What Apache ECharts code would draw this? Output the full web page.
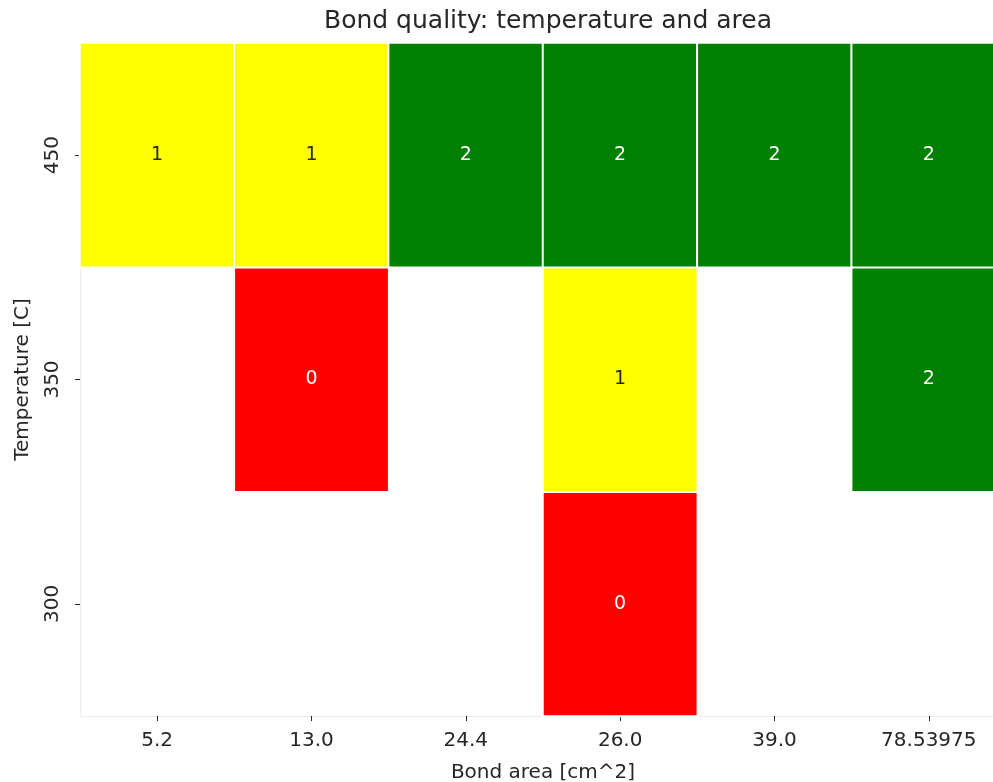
<!DOCTYPE html>
<html>
<head>
<meta charset="utf-8">
<script src="https://cdn.jsdelivr.net/npm/echarts@6/dist/echarts.min.js"></script>
<style>
  html, body { margin: 0; padding: 0; background: #fff; }
  #chart { width: 993px; height: 782px; }
</style>
</head>
<body>
<div id="chart"></div>
<script>
// Bond areas along x, temperatures along y (bottom to top)
const areas = ['5.2', '13.0', '24.4', '26.0', '39.0', '78.53975'];
const temps = ['300', '350', '450'];

// Bond quality per temperature row (null = not tested)
const quality300 = [null, null, null, 0, null, null];
const quality350 = [null, 0, null, 1, null, 2];
const quality450 = [1, 1, 2, 2, 2, 2];

const rows = [quality300, quality350, quality450];
const cells = [];
rows.forEach((row, yi) => {
  row.forEach((v, xi) => {
    if (v === null) return;
    cells.push({
      value: [xi, yi, v],
      label: { color: v === 1 ? '#262626' : '#ffffff' }
    });
  });
});

const FONT = 'DejaVu Sans';
const chart = echarts.init(document.getElementById('chart'));
chart.setOption({
  animation: false,
  backgroundColor: '#ffffff',
  textStyle: { fontFamily: FONT },
  title: {
    text: 'Bond quality: temperature and area',
    left: 543,
    textAlign: 'center',
    top: 4,
    textStyle: { fontFamily: FONT, fontSize: 25, fontWeight: 'normal', color: '#262626' }
  },
  grid: { left: 80, top: 43, width: 926, height: 673, outerBoundsMode: 'none', containLabel: false },
  xAxis: {
    type: 'category',
    data: areas,
    name: 'Bond area [cm^2]',
    nameLocation: 'middle',
    nameGap: 47,
    nameTextStyle: { fontFamily: FONT, fontSize: 20, color: '#262626' },
    axisLine: { show: true, lineStyle: { color: '#ebebeb', width: 1 } },
    axisTick: { show: true, alignWithLabel: true, length: 5, lineStyle: { color: '#262626', width: 1 } },
    axisLabel: { fontFamily: FONT, fontSize: 20, color: '#262626', margin: 15 },
    splitLine: { show: false },
    splitArea: { show: false }
  },
  yAxis: {
    type: 'category',
    data: temps,
    name: 'Temperature [C]',
    nameLocation: 'middle',
    nameRotate: 90,
    nameGap: 47,
    nameTextStyle: { fontFamily: FONT, fontSize: 20, color: '#262626' },
    axisLine: { show: true, lineStyle: { color: '#ebebeb', width: 1 } },
    axisTick: { show: true, alignWithLabel: true, length: 5, lineStyle: { color: '#262626', width: 1 } },
    axisLabel: { fontFamily: FONT, fontSize: 20, color: '#262626', rotate: 90, margin: 17 },
    splitLine: { show: false },
    splitArea: { show: false }
  },
  visualMap: {
    type: 'piecewise',
    show: false,
    dimension: 2,
    pieces: [
      { value: 0, color: '#ff0000' },
      { value: 1, color: '#ffff00' },
      { value: 2, color: '#008000' }
    ]
  },
  series: [{
    type: 'heatmap',
    data: cells,
    itemStyle: { borderColor: '#ffffff', borderWidth: 2 },
    label: { show: true, fontFamily: FONT, fontSize: 19, formatter: p => String(p.value[2]) },
    emphasis: { disabled: true }
  }]
});
</script>
</body>
</html>
